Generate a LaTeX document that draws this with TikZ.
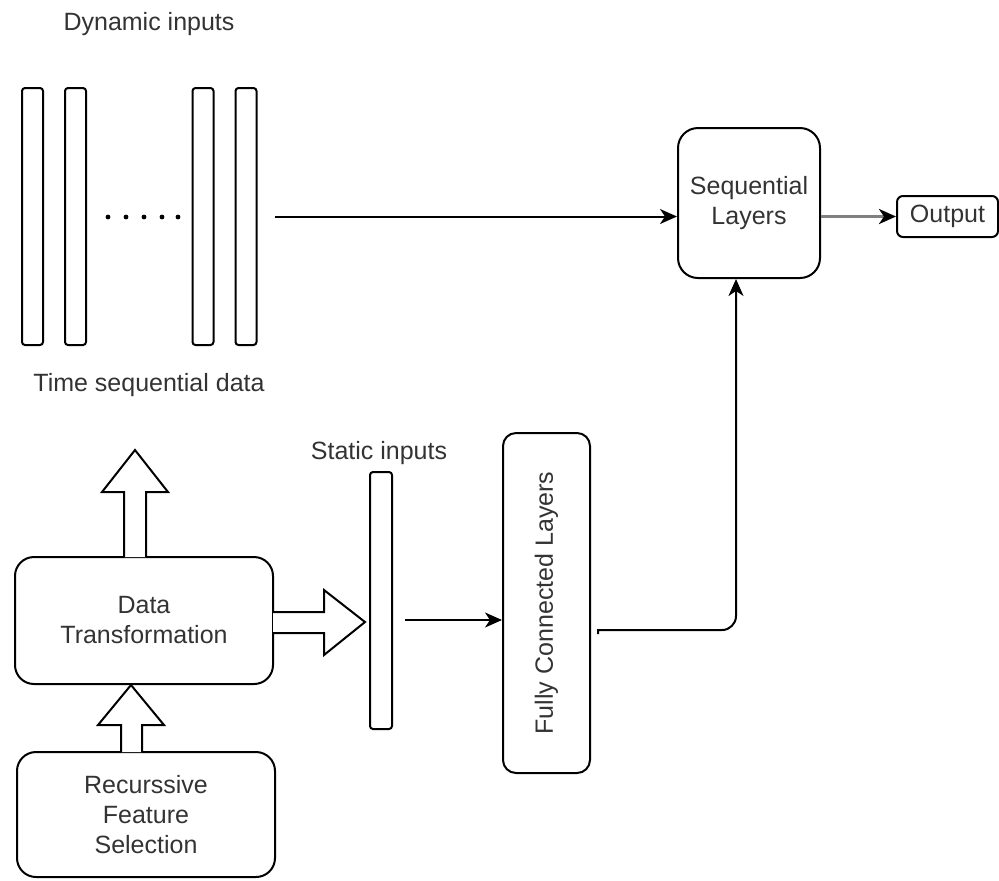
\documentclass[tikz,border=0pt]{standalone}
\usepackage{fontspec}
\setmainfont{Liberation Sans}
\usetikzlibrary{arrows.meta}
\begin{document}
\begin{tikzpicture}[x=0.5pt,y=-0.5pt,line width=1pt,
	every node/.style={font=\fontsize{12.5}{15}\selectfont,text=black!80,align=center},
	blk/.style={draw,rounded corners=#1,inner sep=0pt},
	ar/.style={-{Stealth[length=8.5pt,width=7.5pt,inset=2.5pt]}}]
	\useasboundingbox (0,0) rectangle (999,880);
	% dynamic inputs
	\foreach \x/\n in {32.5/a,75.5/b,203/c,246/d}
		\node[blk=1.5pt,minimum width=10.5pt,minimum height=128.5pt] (bar\n) at (\x,216.5) {};
	\foreach \x in {108,126,144,162,178}
		\fill (\x,217) circle (1.2pt);
	\node (dyn) at (149,24) {Dynamic inputs};
	\node (tsd) at (149,385) {Time sequential data};
	\node[blk=10pt,minimum width=71pt,minimum height=75pt] (seq) at (749,203) {Sequential\\Layers};
	\node[blk=3pt,minimum width=50.5pt,minimum height=20.5pt] (out) at (947.5,216.5) {Output};
	% static branch
	\node[blk=9.5pt,minimum width=129pt,minimum height=63.5pt] (dt) at (144,620.5) {Data\\Transformation};
	\node[blk=9.5pt,minimum width=129pt,minimum height=62.5pt] (rfs) at (146,814.5) {Recurssive\\Feature\\Selection};
	\node[blk=1.5pt,minimum width=11pt,minimum height=128.5pt] (st) at (381,600.5) {};
	\node (sti) at (379,453) {Static inputs};
	\node[blk=6.5pt,minimum width=43.5pt,minimum height=170pt] (fc) at (546.5,603) {};
	\node[rotate=90] at (fc) {Fully Connected Layers};
	% block arrows
	\draw[fill=white] (124,557) -- (124,492) -- (102,492) -- (135,450) -- (168,492) -- (146,492) -- (146,557);
	\draw[fill=white] (121,752) -- (121,725) -- (98,725) -- (131,685) -- (164,725) -- (142,725) -- (142,752);
	\draw[fill=white] (273,612) -- (324,612) -- (324,590) -- (365,622) -- (324,655) -- (324,633) -- (273,633);
	% connectors
	\coordinate (sout) at (405,620);
	\coordinate (fout) at (598,634);
	\coordinate (sin) at ([xshift=-6.5pt]seq.south);
	\draw[ar,shorten <=8.5pt] (bard.east) -- (bard.east -| seq.west);
	\draw[ar,gray,line width=1.5pt,-{Stealth[black,length=8.5pt,width=7.5pt,inset=2.5pt]}] (seq.east |- out.west) -- (out.west);
	\draw[ar] (sout) -- (sout -| fc.west);
	\draw[ar] (fout) -- (fout |- 0,630) [rounded corners=7pt] -- (sin |- 0,630) -- (sin);
\end{tikzpicture}
\end{document}
